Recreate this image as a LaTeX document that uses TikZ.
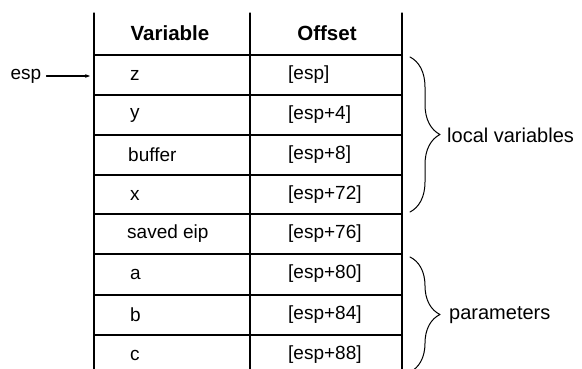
\documentclass[tikz,border=0pt]{standalone}
\usepackage{fontspec}
\setmainfont{Liberation Sans}
\usetikzlibrary{decorations.pathreplacing,arrows.meta}

\begin{document}
\begin{tikzpicture}[line cap=round,line join=round,x=1pt,y=-1pt,
    every node/.style={font=\fontsize{19}{22}\selectfont,inner sep=0pt},
    head/.style={font=\fontsize{20.5}{24}\selectfont\bfseries},
    side/.style={anchor=west,font=\fontsize{20}{24}\selectfont},
    curly/.style={decorate,decoration={brace,amplitude=30pt},line width=1pt}]
    \useasboundingbox (0,0) rectangle (582,369);
    \draw [line width=1.2pt] (94,13) -- (94,380);
    \draw [line width=1.2pt] (250,13) -- (250,380);
    \draw [line width=1.2pt] (402,13) -- (402,380);
    \draw [line width=1.2pt] (94,55) -- (402,55);
    \draw [line width=1.2pt] (94,95) -- (402,95);
    \draw [line width=1.2pt] (94,135) -- (402,135);
    \draw [line width=1.2pt] (94,175) -- (402,175);
    \draw [line width=1.2pt] (94,214) -- (402,214);
    \draw [line width=1.2pt] (94,254) -- (402,254);
    \draw [line width=1.2pt] (94,295) -- (402,295);
    \draw [line width=1.2pt] (94,335) -- (402,335);
    \node [head] (varhead) at (170,33) {Variable};
    \node [head] (offhead) at (327,33) {Offset};
    \node [anchor=west] (varz) at (130,75) {z};
    \node [anchor=west] (vary) at (130,115) {y};
    \node [anchor=west] (varbuf) at (128,155) {buffer};
    \node [anchor=west] (varx) at (130,195) {x};
    \node [anchor=west] (vareip) at (127,234) {saved eip};
    \node [anchor=west] (vara) at (130,274) {a};
    \node [anchor=west] (varb) at (130,315) {b};
    \node [anchor=west] (varc) at (130,355) {c};
    \node [anchor=west] (offz) at (288,75) {[esp]};
    \node [anchor=west] (offy) at (288,115) {[esp+4]};
    \node [anchor=west] (offbuf) at (288,155) {[esp+8]};
    \node [anchor=west] (offx) at (288,195) {[esp+72]};
    \node [anchor=west] (offeip) at (288,234) {[esp+76]};
    \node [anchor=west] (offa) at (288,274) {[esp+80]};
    \node [anchor=west] (offb) at (288,315) {[esp+84]};
    \node [anchor=west] (offc) at (288,355) {[esp+88]};
    \node (esp) at (26,76) {esp};
    \coordinate (espto) at (90,76);
    \draw [-{Stealth[length=5pt]},line width=1.2pt] (esp.east) ++(5,0) -- (espto);
    \coordinate (loctop) at (410,57);
    \coordinate (locbot) at (410,212);
    \draw [curly] (loctop) -- (locbot);
    \node [side] (locvars) at (447,135) {local variables};
    \coordinate (partop) at (410,257);
    \coordinate (parbot) at (410,372);
    \draw [curly] (partop) -- (parbot);
    \node [side] (params) at (449,315) {parameters};
\end{tikzpicture}
\end{document}
